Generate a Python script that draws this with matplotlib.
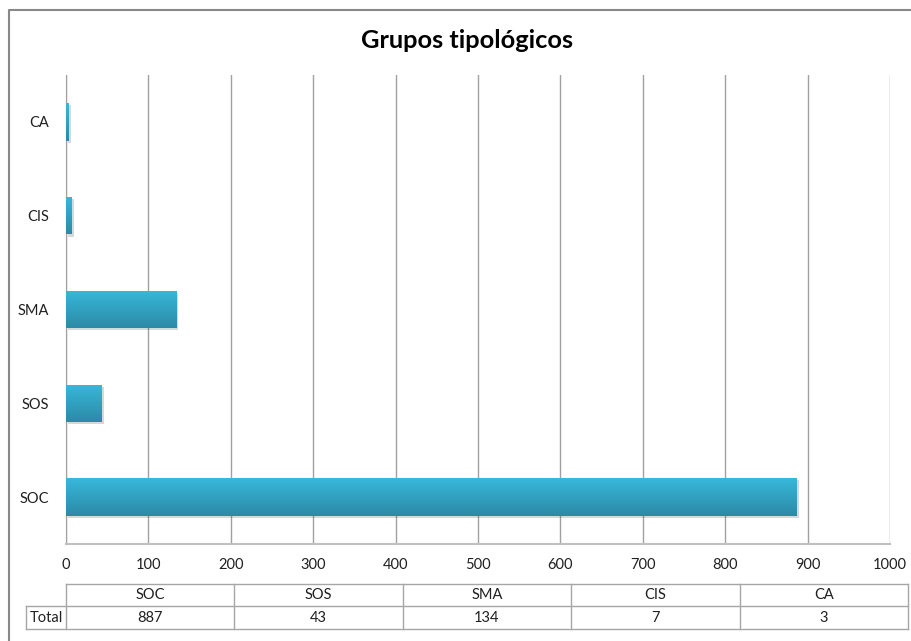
import matplotlib.pyplot as plt
import matplotlib.patheffects as pe
from matplotlib.lines import Line2D
from matplotlib.colors import LinearSegmentedColormap
import numpy as np

plt.rcParams['font.family'] = ['Lato', 'DejaVu Sans']

# datos
categorias = ["SOC", "SOS", "SMA", "CIS", "CA"]
totales = [887, 43, 134, 7, 3]
fila_tabla = "Total"
titulo = "Grupos tipológicos"
xticks = list(range(0, 1001, 100))

W, H = 912, 641
fig = plt.figure(figsize=(W / 100, H / 100), dpi=100)
ax = fig.add_axes([66 / W, 1 - 544 / H, (890 - 66) / W, (544 - 75) / H])

y = np.arange(len(categorias))
bars = ax.barh(y, totales, height=0.4, color="#31a5c6", zorder=3)

# degradado en cada barra + sombra
grad = np.linspace(0, 1, 64).reshape(-1, 1)
cmap = LinearSegmentedColormap.from_list("g", ["#38b8da", "#2c8aa6"])
for b in bars:
    b.set_path_effects([pe.SimplePatchShadow(offset=(1.5, -1.5), alpha=0.18), pe.Normal()])
    x0, y0, w, h = b.get_x(), b.get_y(), b.get_width(), b.get_height()
    im = ax.imshow(grad, cmap=cmap, aspect="auto", extent=(x0, x0 + w, y0, y0 + h),
                   origin="upper", zorder=4)
    im.set_clip_path(b)

ax.set_xlim(0, 1000)
ax.set_ylim(-0.5, len(categorias) - 0.5)
ax.set_xticks(xticks)
ax.set_yticks(y)
ax.set_yticklabels(categorias)
ax.tick_params(axis="both", length=0, labelsize=10.5, colors="#202020")
ax.tick_params(axis="x", pad=10)
ax.tick_params(axis="y", pad=12)
ax.grid(axis="x", color="#a0a0a0", linewidth=1, zorder=0)
for s in ["top", "right"]:
    ax.spines[s].set_visible(False)
ax.spines["left"].set_color("#a0a0a0")
ax.spines["bottom"].set_color("#c0c0c0")
ax.spines["bottom"].set_linewidth(1.5)

fig.text(467 / W, 1 - 41 / H, titulo, ha="center", va="center",
         fontsize=18.3, fontweight="bold")

# tabla de datos (coordenadas de figura en pixeles)
def fx(px):
    return px / W

def fy(py):
    return 1 - py / H

gris = "#a6a6a6"
left_lab, left_data, right = 26, 66, 908
top, mid, bot = 584, 606, 629
colw = (right - left_data) / len(categorias)
lines = [
    ((left_data, right), (top, top)),
    ((left_lab, right), (mid, mid)),
    ((left_lab, right), (bot, bot)),
    ((left_lab, left_lab), (mid, bot)),
]
for i in range(len(categorias) + 1):
    xx = left_data + i * colw
    lines.append(((xx, xx), (top, bot)))
for xs, ys in lines:
    fig.add_artist(Line2D([fx(v) for v in xs], [fy(v) for v in ys], color=gris, linewidth=1))

for i, (c, v) in enumerate(zip(categorias, totales)):
    cx = left_data + (i + 0.5) * colw
    fig.text(fx(cx), fy((top + mid) / 2), c, ha="center", va="center", fontsize=10.5, color="#202020")
    fig.text(fx(cx), fy((mid + bot) / 2), str(v), ha="center", va="center", fontsize=10.5, color="#202020")
fig.text(fx(left_lab + 4), fy((mid + bot) / 2), fila_tabla, ha="left", va="center", fontsize=10.5, color="#202020")

# borde del gráfico
fig.add_artist(Line2D([fx(9.5), fx(9.5), fx(912)], [fy(641), fy(9.5), fy(9.5)], color="#888888", linewidth=1.5))

fig.savefig("out.png", dpi=100)
